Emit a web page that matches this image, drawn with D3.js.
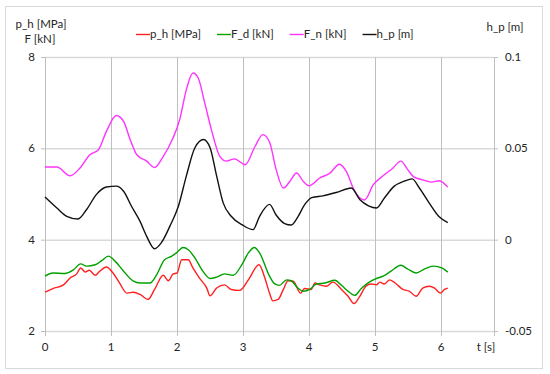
<!DOCTYPE html>
<html>
<head>
<meta charset="utf-8">
<script src="https://cdn.jsdelivr.net/npm/d3@7"></script>
<style>
  body { margin: 0; background: #fff; }
  svg text { font-family: Lato, "Liberation Sans", sans-serif; font-size: 11.5px; fill: #262626; }
</style>
</head>
<body>
<svg id="chart" width="550" height="374"></svg>
<script>
// time samples [s] and values, one pair per series
var tP = [0,0.12,0.28,0.38,0.48,0.54,0.61,0.67,0.76,0.83,0.93,1.03,1.13,1.24,1.34,1.44,1.56,1.66,1.79,1.87,1.94,2.00,2.07,2.17,2.24,2.34,2.45,2.50,2.60,2.72,2.82,2.95,3.08,3.24,3.33,3.40,3.45,3.53,3.61,3.68,3.76,3.87,3.93,4.03,4.09,4.16,4.26,4.36,4.49,4.59,4.68,4.76,4.86,4.94,5.02,5.07,5.14,5.22,5.32,5.42,5.52,5.62,5.72,5.82,5.90,5.99,6.05,6.10];
var pH = [2.85,2.93,3.01,3.16,3.25,3.38,3.29,3.33,3.22,3.31,3.40,3.27,3.05,2.83,2.85,2.80,2.69,2.91,3.22,3.10,3.25,3.27,3.56,3.56,3.38,3.16,2.94,2.77,2.94,3.01,2.91,2.89,3.12,3.45,3.16,2.83,2.66,2.69,2.91,3.10,3.09,2.83,2.93,2.91,3.05,3.01,2.98,3.07,2.91,2.76,2.60,2.74,2.98,3.03,3.01,3.07,3.03,3.12,3.03,2.91,2.87,2.76,2.94,2.98,2.94,2.83,2.91,2.94];

var tD = [0,0.12,0.30,0.43,0.54,0.63,0.76,0.86,0.96,1.06,1.19,1.34,1.44,1.59,1.69,1.81,1.92,1.99,2.09,2.17,2.27,2.39,2.50,2.60,2.72,2.85,2.98,3.08,3.17,3.25,3.40,3.48,3.55,3.66,3.73,3.83,3.91,4.01,4.11,4.24,4.39,4.49,4.59,4.69,4.79,4.91,5.02,5.12,5.24,5.39,5.49,5.62,5.75,5.88,6.01,6.10];
var fD = [3.20,3.27,3.26,3.34,3.47,3.42,3.45,3.54,3.64,3.53,3.31,3.09,3.05,3.05,3.23,3.56,3.64,3.71,3.83,3.78,3.60,3.31,3.15,3.18,3.25,3.22,3.45,3.71,3.83,3.71,3.20,3.03,3.00,3.12,3.10,2.94,2.87,2.91,3.03,3.05,3.11,3.00,2.87,2.78,2.93,3.07,3.15,3.20,3.31,3.44,3.36,3.27,3.36,3.42,3.38,3.29];

var tN = [0,0.18,0.38,0.53,0.68,0.81,0.93,1.08,1.19,1.29,1.39,1.54,1.66,1.79,1.94,2.04,2.14,2.24,2.32,2.42,2.52,2.65,2.75,2.87,3.03,3.18,3.30,3.40,3.50,3.61,3.71,3.81,3.91,4.00,4.16,4.31,4.46,4.56,4.69,4.84,4.97,5.14,5.27,5.39,5.49,5.59,5.72,5.85,5.97,6.10];
var fN = [5.59,5.59,5.40,5.57,5.86,5.97,6.37,6.72,6.59,6.19,5.86,5.72,5.58,5.82,6.23,6.63,7.28,7.65,7.54,6.99,6.41,5.82,5.72,5.77,5.64,6.04,6.30,6.14,5.54,5.13,5.28,5.46,5.28,5.18,5.35,5.45,5.65,5.50,5.06,4.87,5.20,5.42,5.57,5.72,5.54,5.37,5.31,5.26,5.29,5.15];

var tH = [0,0.18,0.33,0.50,0.63,0.78,0.93,1.08,1.19,1.31,1.44,1.54,1.66,1.76,1.89,2.02,2.14,2.27,2.40,2.50,2.60,2.70,2.82,3.00,3.15,3.25,3.40,3.50,3.63,3.73,3.83,3.93,4.04,4.21,4.41,4.64,4.77,4.90,5.02,5.14,5.29,5.44,5.56,5.67,5.82,5.97,6.10];
var hP = [0.0233,0.0173,0.0128,0.0113,0.0165,0.0248,0.0288,0.0293,0.0265,0.0183,0.0100,0.0018,-0.0050,-0.0018,0.0073,0.0183,0.0348,0.0503,0.0548,0.0503,0.0348,0.0200,0.0128,0.0078,0.0055,0.0128,0.0193,0.0135,0.0088,0.0080,0.0125,0.0190,0.0230,0.0240,0.0258,0.0283,0.0218,0.0185,0.0173,0.0228,0.0293,0.0320,0.0333,0.0283,0.0200,0.0125,0.0093];

var xTicks = [0,1,2,3,4,5,6];
var yTicks = [2,4,6,8];
var y2Ticks = [-0.05,0,0.05,0.1];

var svg = d3.select("#chart");

// chart area border
svg.append("rect")
    .attr("x", 5.5).attr("y", 6.5)
    .attr("width", 537).attr("height", 362)
    .attr("fill", "#fff")
    .attr("stroke", "#d9d9d9");

var x  = d3.scaleLinear().domain([0, 6.8]).range([45, 494]);
var y  = d3.scaleLinear().domain([2, 8]).range([331, 57]);
var y2 = d3.scaleLinear().domain([-0.05, 0.1]).range([331, 57]);

// horizontal gridlines
svg.append("g").selectAll("line").data(yTicks).join("line")
    .attr("x1", x(0)).attr("x2", x(6.8))
    .attr("y1", function(d){ return y(d) + 0.5; })
    .attr("y2", function(d){ return y(d) + 0.5; })
    .attr("stroke", "#d9d9d9").attr("stroke-width", 1.5);

// vertical gridlines + tick marks below the axis
svg.append("g").selectAll("line").data(xTicks).join("line")
    .attr("x1", function(d){ return Math.round(x(d)) + 0.5; })
    .attr("x2", function(d){ return Math.round(x(d)) + 0.5; })
    .attr("y1", y(8)).attr("y2", y(2) + 5)
    .attr("stroke", "#bfbfbf");

// right axis line
svg.append("line")
    .attr("x1", Math.round(x(6.8)) + 0.5).attr("x2", Math.round(x(6.8)) + 0.5)
    .attr("y1", y(8)).attr("y2", y(2) + 5)
    .attr("stroke", "#bfbfbf");

// left ticks
svg.append("g").selectAll("line").data(yTicks).join("line")
    .attr("x1", x(0) - 4).attr("x2", x(0))
    .attr("y1", function(d){ return y(d) + 0.5; })
    .attr("y2", function(d){ return y(d) + 0.5; })
    .attr("stroke", "#bfbfbf");

// right ticks
svg.append("g").selectAll("line").data(y2Ticks).join("line")
    .attr("x1", x(6.8)).attr("x2", x(6.8) + 4)
    .attr("y1", function(d){ return y2(d) + 0.5; })
    .attr("y2", function(d){ return y2(d) + 0.5; })
    .attr("stroke", "#bfbfbf");

// tick labels
svg.append("g").selectAll("text").data(yTicks).join("text")
    .attr("x", 35).attr("y", function(d){ return y(d) + 4; })
    .attr("text-anchor", "end")
    .text(function(d){ return d; });

svg.append("g").selectAll("text").data(y2Ticks).join("text")
    .attr("x", 505).attr("y", function(d){ return y2(d) + 4; })
    .text(function(d){ return d; });

svg.append("g").selectAll("text").data(xTicks).join("text")
    .attr("x", function(d){ return x(d); }).attr("y", 351)
    .attr("text-anchor", "middle")
    .text(function(d){ return d; });

svg.append("text").attr("x", 486).attr("y", 351).attr("text-anchor", "middle").text("t [s]");
svg.append("text").attr("x", 41).attr("y", 28).attr("text-anchor", "middle").text("p_h [MPa]");
svg.append("text").attr("x", 40).attr("y", 43).attr("text-anchor", "middle").text("F [kN]");
svg.append("text").attr("x", 505).attr("y", 31).attr("text-anchor", "middle").text("h_p [m]");

// series
var series = [
    {name: "p_h [MPa]", t: tP, v: pH, sc: y,  color: "#ff2020"},
    {name: "F_d [kN]",  t: tD, v: fD, sc: y,  color: "#00a000"},
    {name: "F_n [kN]",  t: tN, v: fN, sc: y,  color: "#ff33ff"},
    {name: "h_p [m]",   t: tH, v: hP, sc: y2, color: "#111111"}
];

series.forEach(function(s){
    var line = d3.line()
        .x(function(d){ return x(d[0]); })
        .y(function(d){ return s.sc(d[1]); })
        .curve(d3.curveMonotoneX);
    svg.append("path")
        .datum(d3.zip(s.t, s.v))
        .attr("fill", "none")
        .attr("stroke", s.color)
        .attr("stroke-width", 1.4)
        .attr("d", line);
});

// legend
var lx = 136;
series.forEach(function(s){
    svg.append("line")
        .attr("x1", lx).attr("x2", lx + 14)
        .attr("y1", 34.5).attr("y2", 34.5)
        .attr("stroke", s.color).attr("stroke-width", 1.4);
    var t = svg.append("text").attr("x", lx + 14).attr("y", 38).text(s.name);
    lx += 14 + t.node().getComputedTextLength() + 16;
});
</script>
</body>
</html>
